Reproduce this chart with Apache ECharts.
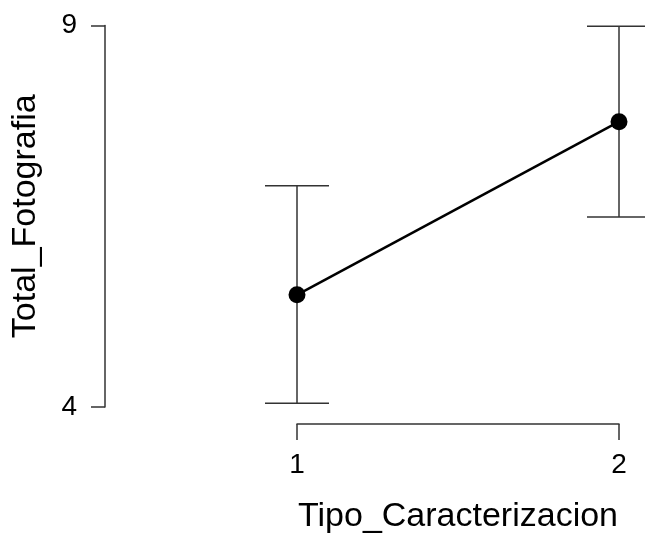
<!DOCTYPE html>
<html><head><meta charset="utf-8">
<script src="https://cdn.jsdelivr.net/npm/echarts@6/dist/echarts.min.js"></script>
<style>html,body{margin:0;padding:0;background:#fff}#c{width:645px;height:533px}</style>
</head><body><div id="c"></div>
<script>
const categories = [1, 2];
const means = [5.47, 7.74];
const lower = [4.05, 6.49];
const upper = [6.90, 8.99];
const yTicks = [4, 9];

const chart = echarts.init(document.getElementById('c'), null, {renderer: 'canvas'});
const font = 'Liberation Sans, Arial, sans-serif';
chart.setOption({
  animation: false,
  grid: {left: 297, right: 26, top: 25.5, bottom: 126, containLabel: false, outerBoundsMode: 'none'},
  xAxis: {
    type: 'value', min: 1, max: 2, interval: 1, offset: 17,
    name: 'Tipo_Caracterizacion', nameLocation: 'middle', nameGap: 76,
    nameTextStyle: {fontSize: 34, color: '#000', fontFamily: font},
    axisLine: {show: true, lineStyle: {color: '#333', width: 1.5}},
    axisTick: {show: true, length: 16, lineStyle: {color: '#333', width: 1.5}},
    axisLabel: {fontSize: 28, color: '#000', fontFamily: font, margin: 27,
      formatter: v => categories.indexOf(v) >= 0 ? String(v) : ''},
    splitLine: {show: false}
  },
  yAxis: {
    type: 'value', min: yTicks[0], max: yTicks[1], interval: yTicks[1] - yTicks[0], offset: 192,
    name: 'Total_Fotografia', nameLocation: 'middle', nameGap: 62,
    nameTextStyle: {fontSize: 34, color: '#000', fontFamily: font},
    axisLine: {show: true, lineStyle: {color: '#333', width: 1.5}},
    axisTick: {show: true, length: 14, lineStyle: {color: '#333', width: 1.5}},
    axisLabel: {fontSize: 28, color: '#000', fontFamily: font, margin: 28},
    splitLine: {show: false}
  },
  series: [
    {
      type: 'custom', clip: false, z: 2,
      data: categories.map((c, i) => [c, lower[i], upper[i]]),
      renderItem: (params, api) => {
        const lo = api.coord([api.value(0), api.value(1)]);
        const hi = api.coord([api.value(0), api.value(2)]);
        const w = 32;
        const st = {stroke: '#333', lineWidth: 1.5, fill: null};
        return {type: 'group', children: [
          {type: 'line', shape: {x1: lo[0], y1: lo[1], x2: hi[0], y2: hi[1]}, style: st},
          {type: 'line', shape: {x1: lo[0]-w, y1: lo[1], x2: lo[0]+w, y2: lo[1]}, style: st},
          {type: 'line', shape: {x1: hi[0]-w, y1: hi[1], x2: hi[0]+w, y2: hi[1]}, style: st}
        ]};
      }
    },
    {
      type: 'line', clip: false, z: 3,
      data: categories.map((c, i) => [c, means[i]]),
      symbol: 'circle', symbolSize: 17,
      lineStyle: {color: '#000', width: 2.5},
      itemStyle: {color: '#000'}
    }
  ]
});
</script></body></html>
